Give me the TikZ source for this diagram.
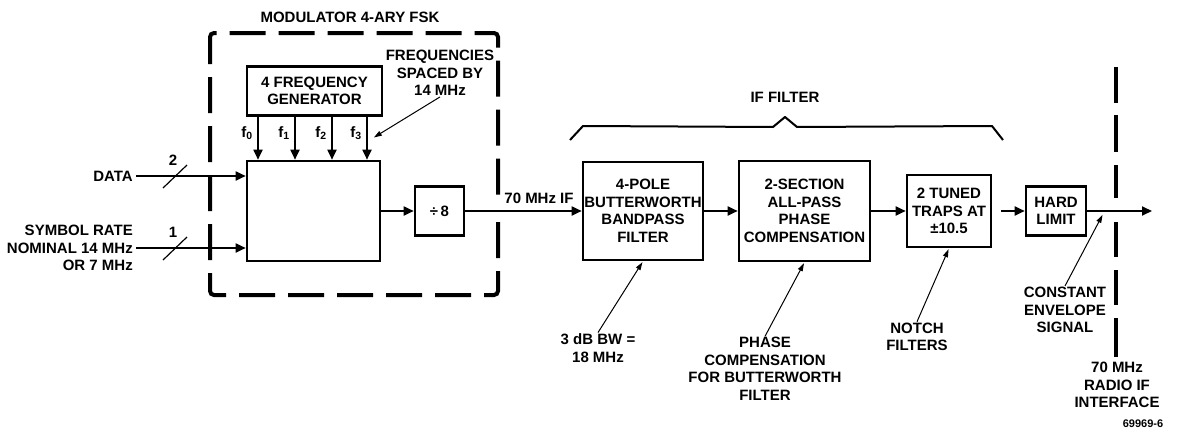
\documentclass[tikz,border=0pt]{standalone}
\usepackage{fontspec}
\setmainfont{Liberation Sans}
\usetikzlibrary{arrows.meta}
\tikzset{
  blk/.style={draw,line width=2.6pt,align=center,inner sep=0pt},
  sig/.style={line width=1.8pt,-{Triangle[length=10pt,width=9pt]}},
  note/.style={line width=1pt,shorten >=1pt,-{Triangle[length=8pt,width=5pt]}},
  txt/.style={align=center,inner sep=1pt},
}
\begin{document}
\begin{tikzpicture}[x=1pt,y=-1pt,font=\bfseries\fontsize{15}{17.5}\selectfont]
\useasboundingbox (0,0) rectangle (1179,431);
% modulator
\draw [line width=4pt,dash pattern=on 36pt off 13pt,rounded corners=4pt] (498,222) -- (498,295) -- (210,295) -- (210,33) -- (498,33) -- (498,200);
\node at (350,17) {MODULATOR 4-ARY FSK};
\node [blk,minimum width=135pt,minimum height=49pt] (fgen) at (314.5,91) {4 FREQUENCY\\GENERATOR};
\node [blk,minimum width=133pt,minimum height=100pt] (fsk) at (313.5,211) {};
\node [blk,minimum width=49pt,minimum height=49pt] (div) at (439.5,211) {÷\,8};
\foreach \x/\i in {258/0,295/1,332/2,367/3}{
  \coordinate (c\i) at (\x,0);
  \draw [sig] (fgen.south -| c\i) -- (fsk.north -| c\i);
  \node at ({\x-11},133) {f\textsubscript{\i}};
}
\node [txt] (freq) at (440,73) {FREQUENCIES\\SPACED BY\\14 MHz};
\coordinate (fpt) at (373,138);
\draw [note] (freq.south) -- (fpt);
% inputs
\node [anchor=east,inner sep=3pt] (data) at (136,176) {DATA};
\draw [sig] (data.east) -- (fsk.west |- data.east);
\draw [line width=1.2pt] (163,188) -- (187,165);
\node at (173,160) {2};
\node [txt,align=right,anchor=east,inner sep=3pt] (rate) at (136,248) {SYMBOL RATE\\NOMINAL 14 MHz\\OR 7 MHz};
\draw [sig] (rate.east) -- (fsk.west |- rate.east);
\draw [line width=1.2pt] (163,260) -- (187,237);
\node at (173,232) {1};
\draw [sig] (fsk.east |- div.west) -- (div.west);
% if filter
\node [blk,minimum width=120pt,minimum height=98pt] (bpf) at (643,211) {4-POLE\\BUTTERWORTH\\BANDPASS\\FILTER};
\node [blk,minimum width=131pt,minimum height=100pt] (apf) at (804.5,211) {2-SECTION\\ALL-PASS\\PHASE\\COMPENSATION};
\node [blk,minimum width=84pt,minimum height=72pt] (trap) at (949,211) {2 TUNED\\TRAPS AT\\±10.5};
\node [blk,minimum width=60pt,minimum height=49pt] (lim) at (1056,211) {HARD\\LIMIT};
\draw [sig] (div.east) -- (bpf.west);
\node at (539,198) {70 MHz IF};
\draw [sig] (bpf.east) -- (apf.west);
\draw [sig] (apf.east) -- (trap.west);
\draw [sig] ([xshift=9pt]trap.east) -- (lim.west);
\coordinate (out) at (1152,211);
\draw [sig] (lim.east) -- (out);
\draw [line width=2pt,line join=round] (570,140) -- (583,126) -- (773,127) -- (785,117) -- (797,127) -- (992,126) -- (1003,140);
\node at (785,97) {IF FILTER};
% interface
\foreach \a/\b in {67/103,115/152,165/198,222/257,270/305,318/357}
  \draw [line width=4pt] (1116,\a) -- (1116,\b);
% notes
\node [txt] (bw) at (598,348) {3 dB BW =\\18 MHz};
\draw [note] (bw.north) -- (bpf.south);
\node [txt] (pc) at (765,369) {PHASE\\COMPENSATION\\FOR BUTTERWORTH\\FILTER};
\draw [note] (pc.north) -- (apf.south);
\node [txt] (notch) at (917,337) {NOTCH\\FILTERS};
\draw [note] (notch.north) -- (trap.south);
\node [txt] (env) at (1065,310) {CONSTANT\\ENVELOPE\\SIGNAL};
\coordinate (spt) at (1103,214);
\draw [note] (env.north) -- (spt);
\node [txt] (radio) at (1117,385) {70 MHz\\RADIO IF\\INTERFACE};
\node [font=\bfseries\fontsize{11}{13}\selectfont] at (1143,424) {69969-6};
\end{tikzpicture}
\end{document}
